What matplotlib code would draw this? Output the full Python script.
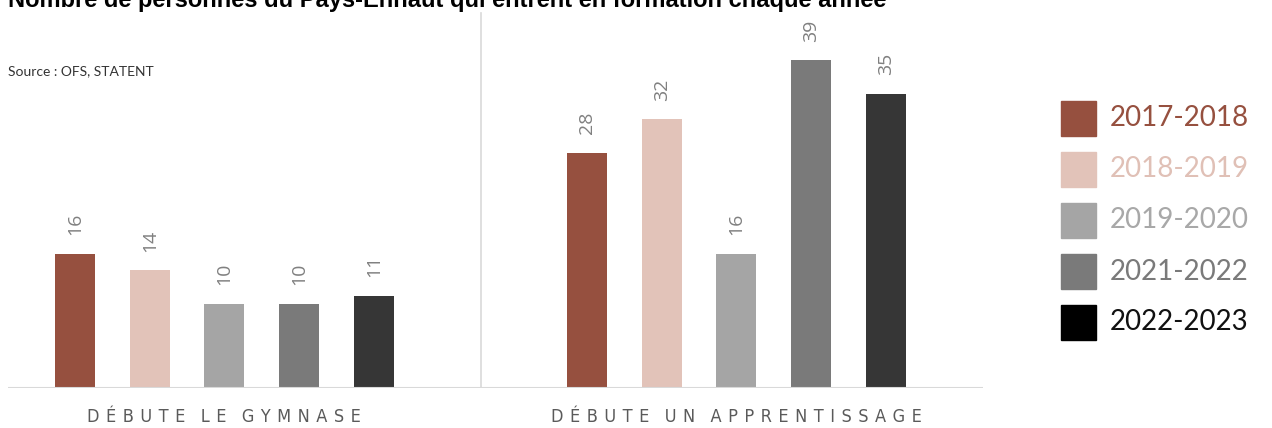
import numpy as np
import matplotlib.pyplot as plt

# data
categories = ["DÉBUTE LE GYMNASE", "DÉBUTE UN APPRENTISSAGE"]
years = ["2017-2018", "2018-2019", "2019-2020", "2021-2022", "2022-2023"]
gymnase = [16, 14, 10, 10, 11]
apprentissage = [28, 32, 16, 39, 35]

bar_colors = ["#96503F", "#E2C3B9", "#A5A5A5", "#7A7A7A", "#363636"]
legend_colors = ["#96503F", "#E2C3B9", "#A5A5A5", "#7A7A7A", "#000000"]
text_colors = ["#96503F", "#E0C0B6", "#A8A8A8", "#7A7A7A", "#111111"]

W, H = 1272, 428
fig = plt.figure(figsize=(W / 100, H / 100), dpi=100)
ax = fig.add_axes([8 / W, 40 / H, 975 / W, 388 / H])

group_centers = np.array([0, 6.85])
offsets = np.arange(len(years)) - 2
bar_w = 0.535

for gi, vals in enumerate([gymnase, apprentissage]):
    for i, v in enumerate(vals):
        x = group_centers[gi] + offsets[i]
        ax.bar(x, v, bar_w, color=bar_colors[i])
        ax.annotate(str(v), xy=(x, v), xytext=(0, 13.5), textcoords="offset points",
                    rotation=90, ha="center", va="bottom", fontsize=14,
                    color="#808080", family="Open Sans")

ax.set_xlim(-2.896, 10.15)
ax.set_ylim(0, 46.2)
ax.axvline(3.43, ymin=0, ymax=44.6 / 46.2, color="#D9D9D9", lw=1.2)
ax.axhline(0, color="#D9D9D9", lw=1.5)
for s in ax.spines.values():
    s.set_visible(False)
ax.set_xticks([])
ax.set_yticks([])

# category labels with letter spacing
gap = "\u2009\u2009"
for gi, cat in enumerate(categories):
    spaced = "   ".join(gap.join(w) for w in cat.split(" "))
    ax.text(group_centers[gi], -3.45, spaced, ha="center", va="center",
            fontsize=13, color="#5A5A5A", family="DejaVu Sans", fontstretch="condensed")

# title (partly cut at top, as in the original) and source
fig.text(8 / W, 1 - 7 / H, "Nombre de personnes du Pays-Enhaut qui entrent en formation chaque année",
         ha="left", va="baseline", fontsize=17, fontweight="bold", family="Liberation Sans")
fig.text(8 / W, 1 - 71 / H, "Source : OFS, STATENT", ha="left", va="center",
         fontsize=10, color="#333333", family="Lato")

# legend
for i, y in enumerate(years):
    top = 101 + i * 51
    fig.patches.append(plt.Rectangle((1061 / W, 1 - (top + 35) / H), 35 / W, 35 / H,
                                     transform=fig.transFigure, color=legend_colors[i]))
    fig.text(1110 / W, 1 - (top + 17.5) / H, y, ha="left", va="center", fontsize=20,
             color=text_colors[i], family="Lato")

fig.savefig("out.png", dpi=100)
